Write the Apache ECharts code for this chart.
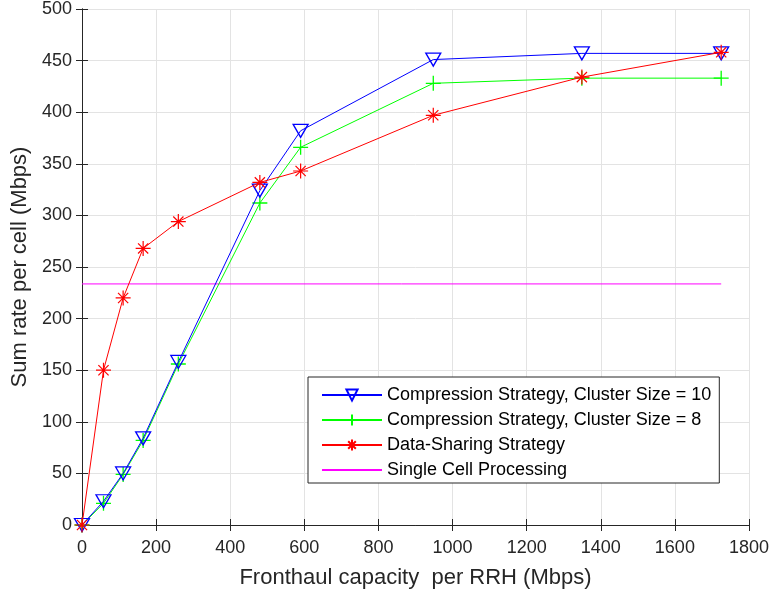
<!DOCTYPE html>
<html>
<head>
<meta charset="utf-8">
<script src="https://cdn.jsdelivr.net/npm/echarts@6/dist/echarts.min.js"></script>
<style>
  html, body { margin: 0; padding: 0; background: #fff; }
  #main { width: 772px; height: 594px; }
</style>
</head>
<body>
<div id="main"></div>
<script>
// fronthaul capacity (Mbps) at each simulated point
var capacity = [0, 58, 111, 165, 260, 480, 590, 948, 1349, 1725];
var compression10 = [0, 23, 50, 84, 158, 324, 382, 451, 457, 457];
var compression8 = [0, 21, 49, 82, 156, 312, 366, 428, 433, 433];
var dataSharing = [0, 150, 220, 268, 294, 332, 343, 397, 434, 458];
var singleCell = 233.6;
var singleCellRange = [0, 1725];

var seriesNames = [
  'Compression Strategy, Cluster Size = 10',
  'Compression Strategy, Cluster Size = 8',
  'Data-Sharing Strategy',
  'Single Cell Processing'
];

function pairs(xs, ys) {
  return xs.map(function (x, i) { return [x, ys[i]]; });
}
function plain(v) { return String(v); }

var axisColor = '#262626';
var gridColor = '#e3e3e3';
var font = 'Liberation Sans, Arial, Helvetica, sans-serif';

var triDown = 'path://M0,0 L10,0 L5,8.66 Z';
var plus = 'path://M5,0 L5,10 M0,5 L10,5';
var star = 'path://M5,0 L5,10 M0,5 L10,5 M1.6,1.6 L8.4,8.4 M1.6,8.4 L8.4,1.6';

var chart = echarts.init(document.getElementById('main'));

var option = {
  animation: false,
  backgroundColor: '#fff',
  textStyle: { fontFamily: font },
  grid: { left: 82, right: 22, top: 7, bottom: 68 },
  legend: {
    orient: 'vertical',
    left: 308,
    top: 377,
    padding: [9, 8, 4, 13],
    itemGap: 7,
    itemWidth: 60,
    itemHeight: 14,
    backgroundColor: '#fff',
    borderColor: axisColor,
    borderWidth: 1,
    borderRadius: 0,
    textStyle: { fontFamily: font, fontSize: 18, color: '#000' },
    data: [
      seriesNames[0],
      seriesNames[1],
      seriesNames[2],
      { name: seriesNames[3], itemStyle: { opacity: 0 } }
    ]
  },
  xAxis: [{
    type: 'value',
    min: 0, max: 1800, interval: 200,
    name: 'Fronthaul capacity  per RRH (Mbps)',
    nameLocation: 'middle',
    nameGap: 42,
    nameTextStyle: { fontSize: 22, color: axisColor, fontFamily: font },
    axisLine: { lineStyle: { color: axisColor } },
    axisTick: { inside: true, length: 6, lineStyle: { color: axisColor } },
    axisLabel: { fontSize: 18, color: axisColor, margin: 14, formatter: plain },
    splitLine: { show: true, lineStyle: { color: gridColor } }
  }, {
    type: 'value', position: 'top',
    min: 0, max: 1800, interval: 200,
    axisLine: { show: true, lineStyle: { color: axisColor } },
    axisTick: { show: true, inside: true, length: 6, lineStyle: { color: axisColor } },
    axisLabel: { show: false },
    splitLine: { show: false }
  }],
  yAxis: [{
    type: 'value',
    min: 0, max: 500, interval: 50,
    name: 'Sum rate per cell (Mbps)',
    nameLocation: 'middle',
    nameGap: 51,
    nameTextStyle: { fontSize: 22, color: axisColor, fontFamily: font },
    axisLine: { show: true, lineStyle: { color: axisColor } },
    axisTick: { show: true, inside: true, length: 6, lineStyle: { color: axisColor } },
    axisLabel: { fontSize: 18, color: axisColor, margin: 10, padding: [6, 0, 0, 0], formatter: plain },
    splitLine: { show: true, lineStyle: { color: gridColor } }
  }, {
    type: 'value', position: 'right',
    min: 0, max: 500, interval: 50,
    axisLine: { show: true, lineStyle: { color: axisColor } },
    axisTick: { show: true, inside: true, length: 6, lineStyle: { color: axisColor } },
    axisLabel: { show: false },
    splitLine: { show: false }
  }],
  series: [{
    name: seriesNames[0],
    type: 'line',
    data: pairs(capacity, compression10),
    symbol: triDown,
    symbolSize: [15, 13],
    z: 4,
    lineStyle: { color: '#0000ff', width: 1 },
    itemStyle: { color: 'rgba(0,0,0,0)', borderColor: '#0000ff', borderWidth: 1.3 }
  }, {
    name: seriesNames[1],
    type: 'line',
    data: pairs(capacity, compression8),
    symbol: plus,
    symbolSize: 15,
    z: 3,
    lineStyle: { color: '#00ff00', width: 1 },
    itemStyle: { color: 'rgba(0,0,0,0)', borderColor: '#00ff00', borderWidth: 1.3 }
  }, {
    name: seriesNames[2],
    type: 'line',
    data: pairs(capacity, dataSharing),
    symbol: star,
    symbolSize: 15,
    z: 5,
    lineStyle: { color: '#ff0000', width: 1 },
    itemStyle: { color: 'rgba(0,0,0,0)', borderColor: '#ff0000', borderWidth: 1.2 }
  }, {
    name: seriesNames[3],
    type: 'line',
    data: singleCellRange.map(function (x) { return [x, singleCell]; }),
    symbol: 'none',
    z: 2,
    color: '#ff00ff',
    lineStyle: { color: '#ff00ff', width: 1 },
    itemStyle: { color: '#ff00ff' }
  }]
};

chart.setOption(option);
</script>
</body>
</html>
